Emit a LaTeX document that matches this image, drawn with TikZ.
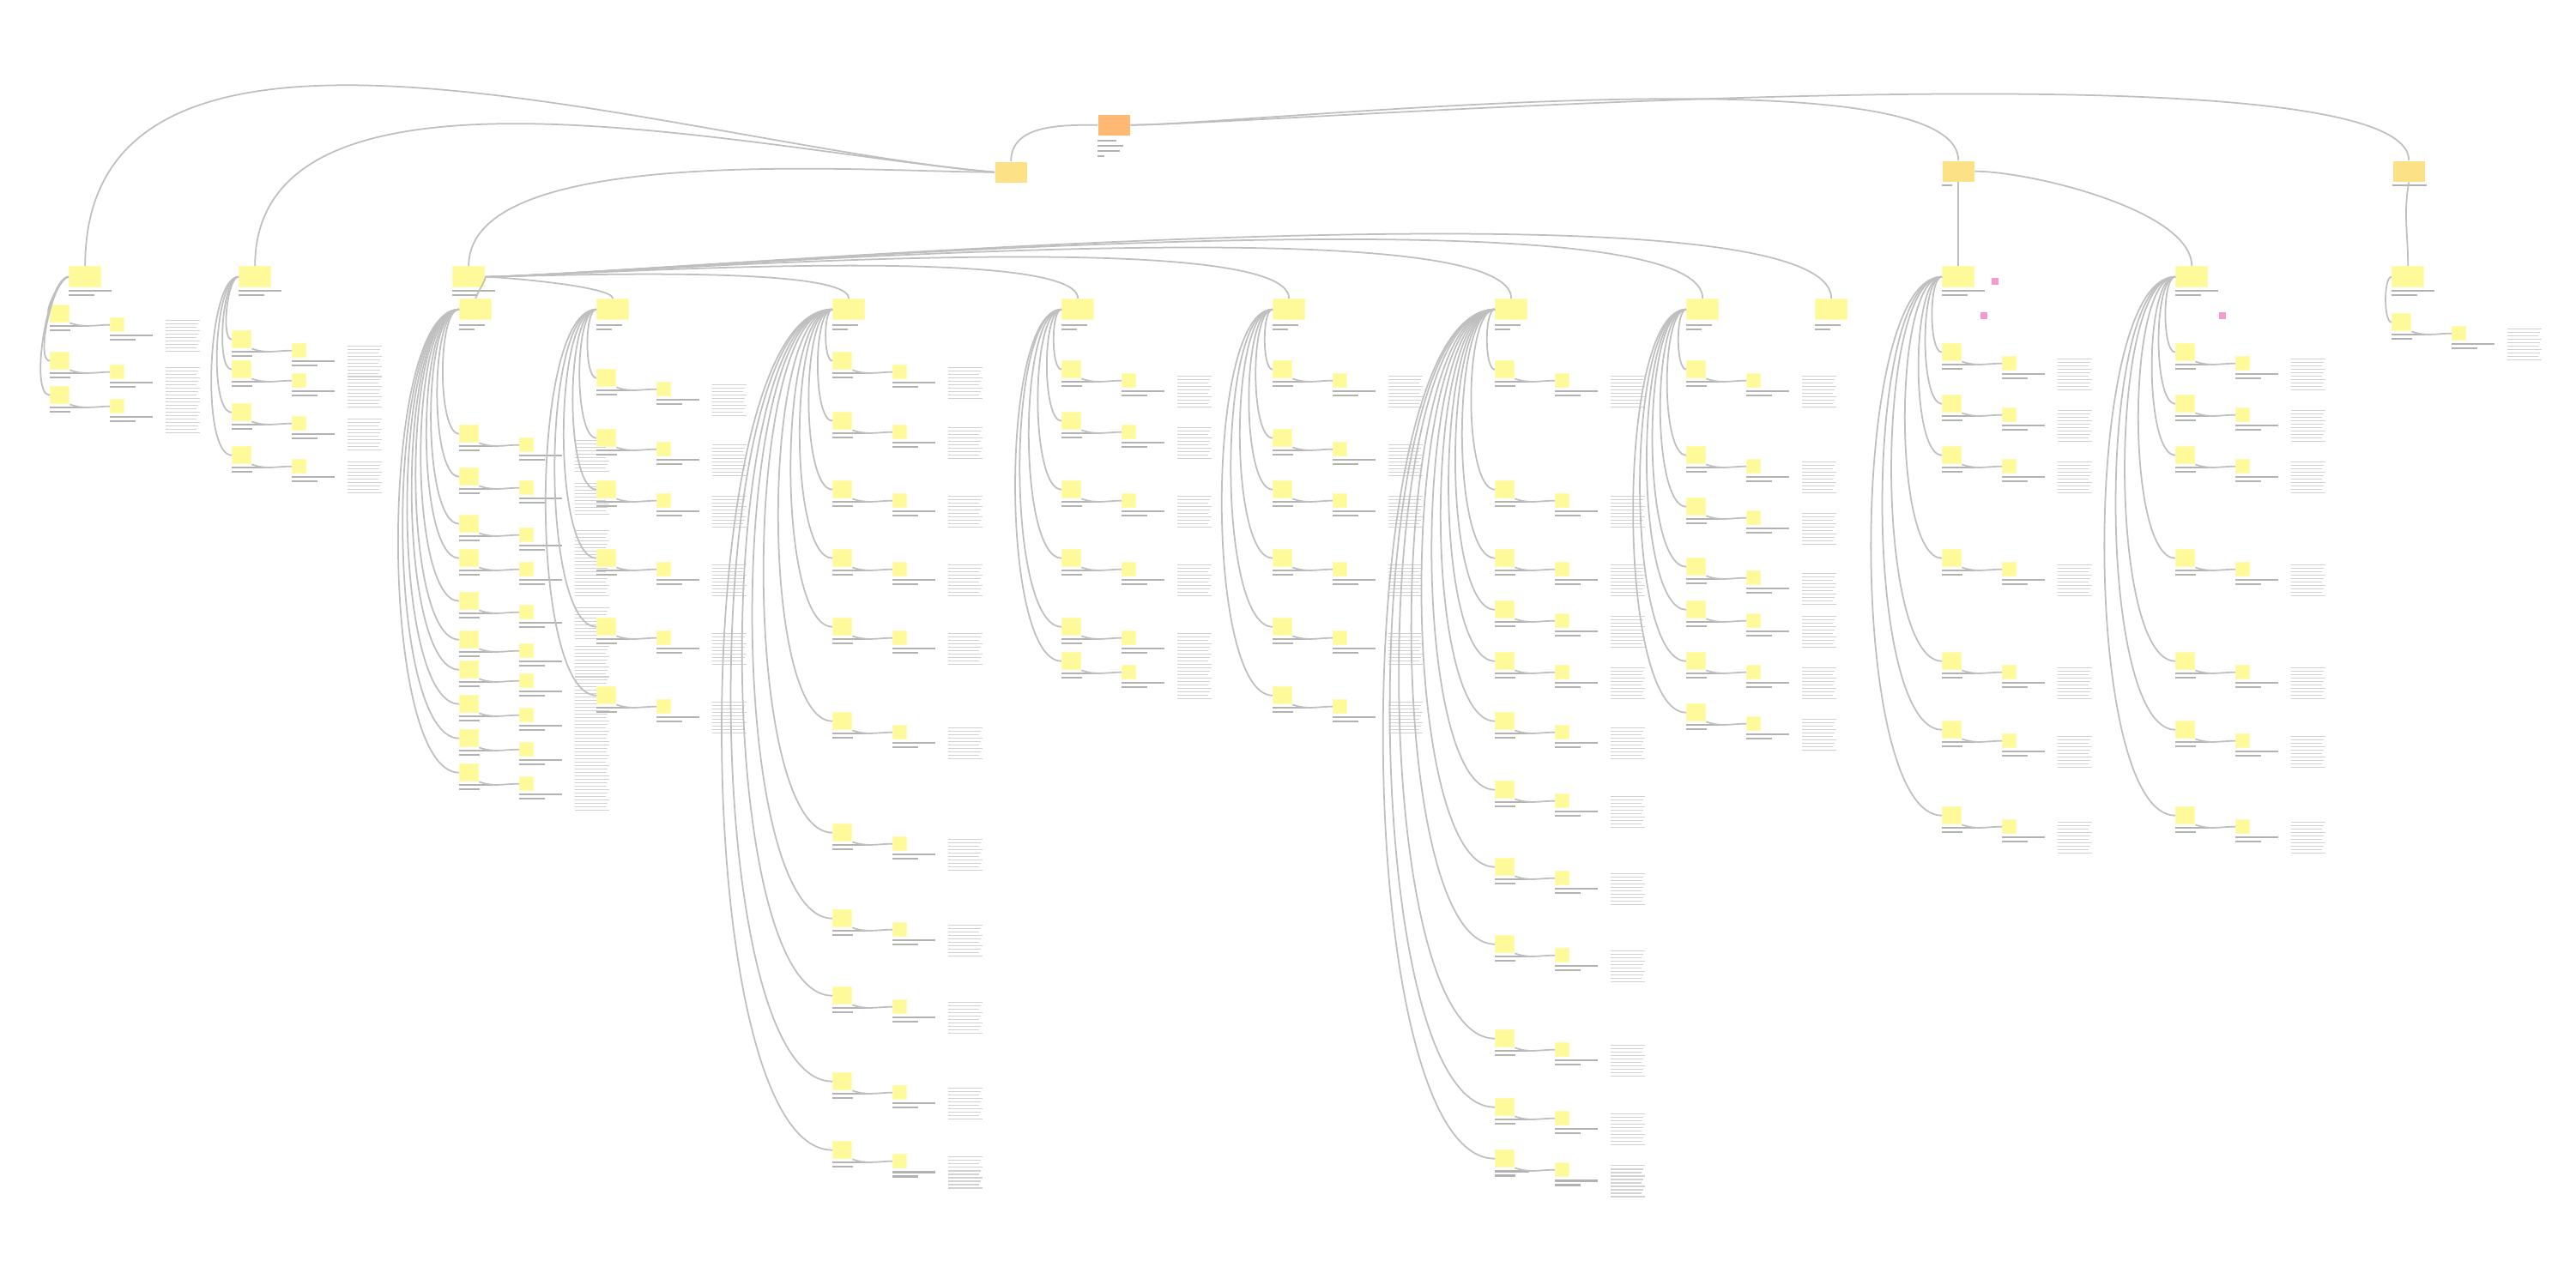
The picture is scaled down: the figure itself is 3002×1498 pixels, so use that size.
\documentclass[tikz,border=0pt]{standalone}
\usetikzlibrary{positioning}
\tikzset{
  card/.style={fill=yellow!40!white, draw=yellow!30!white, anchor=north west, minimum width=0.37cm, minimum height=0.24cm, inner sep=0pt},
  minicard/.style={card, minimum width=0.16cm, minimum height=0.16cm},
  topcard/.style={card, fill=yellow!55!orange!45!white, draw=none},
  rootcard/.style={card, fill=orange!55!white, draw=none},
  link/.style={draw=black!25, line width=0.5pt},
  bar/.style={fill=black!30},
  thinbar/.style={fill=black!18}
}
% gray text bars under a node
\newcommand{\bars}[3]{%
  \fill[bar] (#1,#2) rectangle ++(#3,2.5);
  \fill[bar] (#1,#2+5) rectangle ++(0.6*#3,2.5);
}
\newcommand{\textblock}[2]{%
  \foreach \k in {0,...,9} {\fill[thinbar] (#1,#2+4*\k) rectangle ++({40-2*mod(\k,3)},1.5);}
}
\begin{document}
\begin{tikzpicture}[x=0.01cm,y=-0.01cm]
\useasboundingbox (0,0) rectangle (3002,1498);
% root and first level
\node[rootcard] (root) at (1279,133) {};
\foreach \k/\w in {0/22,1/30,2/26,3/8} {\fill[bar] (1279,163+6*\k) rectangle ++(\w,2.5);}
\node[topcard] (main) at (1159,188) {};
\node[topcard] (right) at (2263,187) {};
\node[topcard] (far) at (2788,187) {};
\fill[bar] (2263,215) rectangle ++(12,2.5);
\fill[bar] (2788,215) rectangle ++(40,2.5);
\draw[link] (root.west) to[out=180,in=90] (main.north);
\draw[link] (root.east) to[out=0,in=90,looseness=0.35] (right.north);
\draw[link] (root.east) to[out=0,in=90,looseness=0.25] (far.north);
% second level heads
\foreach \n/\x/\y in {h1/80/310, h2/278/310, h3/527/310, h11/2263/310, h12/2535/310, h13/2787/310} {
  \node[card] (\n) at (\x,\y) {};
  \bars{\x}{\y+28}{50}
}
\draw[link] (main.west) to[out=175,in=90,looseness=0.9] (h1.north);
\draw[link] (main.west) to[out=175,in=90,looseness=0.8] (h2.north);
\draw[link] (main.west) to[out=180,in=90,looseness=0.6] (h3.north);
\draw[link] (right.east) to[out=0,in=90,looseness=0.6] (h12.north);
\draw[link] (right.south) to[out=-90,in=90] (h11.north);
\draw[link] (far.south) to[out=-100,in=90] (h13.north);
\node[fill=magenta!40, minimum size=0.08cm, inner sep=0pt] (m1) at (2325,328) {};
\node[fill=magenta!40, minimum size=0.08cm, inner sep=0pt] (m2) at (2312,368) {};
\node[fill=magenta!40, minimum size=0.08cm, inner sep=0pt] (m3) at (2590,368) {};
% third level heads under h3
\foreach \n/\x in {c3/535, c4/695, c5/970, c6/1237, c7/1483, c8/1742, c9/1965, c10/2115} {
  \node[card] (\n) at (\x,348) {};
  \bars{\x}{378}{30}
  \draw[link] (h3.east) to[out=0,in=90,looseness=0.25] (\n.north);
}
% columns: head / x / card rows
\foreach \h/\x/\ys in {
  h1/58/{355,410,450},
  h2/270/{385,420,470,520},
  c3/535/{495,545,600,640,690,735,770,810,850,890},
  c4/695/{430,500,560,640,720,800},
  c5/970/{410,480,560,640,720,830,960,1060,1150,1250,1330},
  c6/1237/{420,480,560,640,720,760},
  c7/1483/{420,500,560,640,720,800},
  c8/1742/{420,560,640,700,760,830,910,1000,1090,1200,1280,1340},
  c9/1965/{420,520,580,650,700,760,820},
  h11/2263/{400,460,520,640,760,840,940},
  h12/2535/{400,460,520,640,760,840,940},
  h13/2787/{365}} {
  \foreach \y in \ys {
    \node[card, minimum width=0.22cm, minimum height=0.2cm] (n-\x-\y) at (\x,\y) {};
    \draw[link] (\h.west) to[out=180,in=180,looseness=0.45] (n-\x-\y.west);
    \bars{\x}{\y+24}{40}
    \node[minicard] (s-\x-\y) at (\x+70,\y+15) {};
    \draw[link] (n-\x-\y.south east) to[out=-20,in=180] (s-\x-\y.west);
    \bars{\x+70}{\y+35}{50}
    \textblock{\x+135}{\y+18}
  }
}
\end{tikzpicture}
\end{document}
